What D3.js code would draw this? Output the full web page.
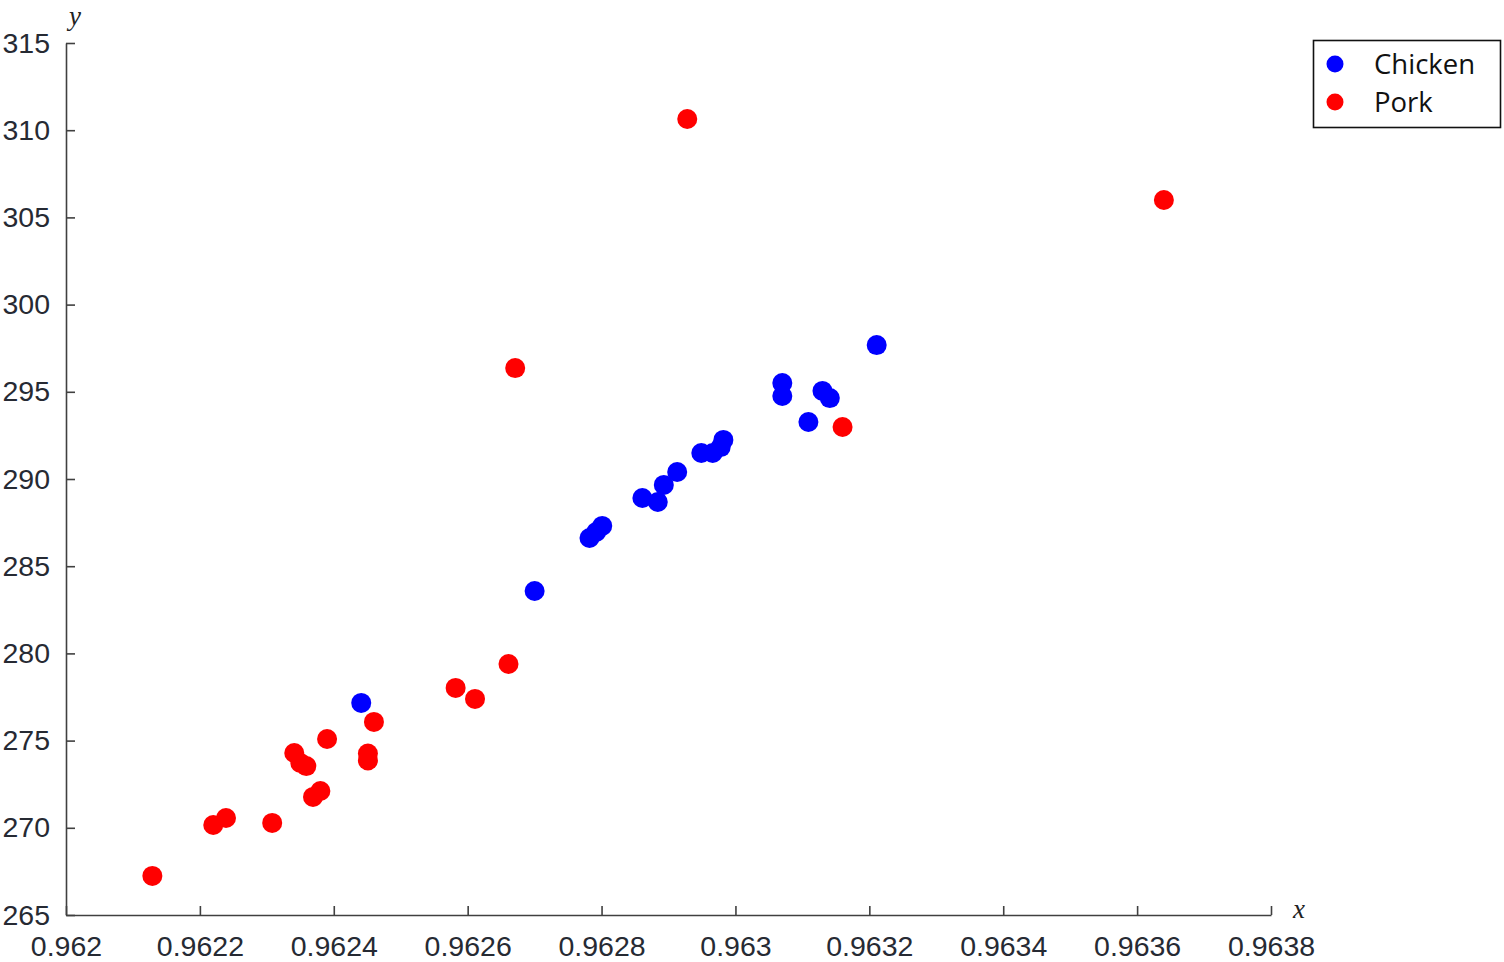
<!DOCTYPE html>
<html>
<head>
<meta charset="utf-8">
<script src="https://cdn.jsdelivr.net/npm/d3@7"></script>
<style>
  html, body { margin: 0; padding: 0; background: #fff; }
  svg { display: block; }
</style>
</head>
<body>
<svg id="chart" width="1504" height="962"></svg>
<script>
// ---- data ----
const seriesNames = ["Chicken", "Pork"];
const seriesColors = ["#0000ff", "#ff0000"];

const chickenX = [0.962441, 0.962700, 0.962782, 0.962792, 0.962801, 0.962861, 0.962884, 0.962893,
  0.962913, 0.962949, 0.962966, 0.962978, 0.962982, 0.963070, 0.963070, 0.963130, 0.963141,
  0.963109, 0.963211];
const chickenY = [277.16, 283.58, 286.62, 286.96, 287.31, 288.91, 288.68, 289.66,
  290.40, 291.49, 291.49, 291.83, 292.24, 295.50, 294.76, 295.05, 294.64,
  293.27, 297.68];

const porkX = [0.962129, 0.962220, 0.962239, 0.962308, 0.962341, 0.962350, 0.962359, 0.962369,
  0.962380, 0.962390, 0.962451, 0.962451, 0.962460, 0.962582, 0.962611, 0.962661, 0.962671,
  0.962928, 0.963160, 0.963640];
const porkY = [267.24, 270.16, 270.56, 270.28, 274.29, 273.72, 273.54, 271.77,
  272.11, 275.09, 274.26, 273.86, 276.07, 278.02, 277.39, 279.39, 296.36,
  310.64, 292.98, 306.00];

const xTicks = [0.962, 0.9622, 0.9624, 0.9626, 0.9628, 0.963, 0.9632, 0.9634, 0.9636, 0.9638];
const xTickLabels = ["0.962", "0.9622", "0.9624", "0.9626", "0.9628", "0.963", "0.9632", "0.9634", "0.9636", "0.9638"];
const yTicks = [265, 270, 275, 280, 285, 290, 295, 300, 305, 310, 315];
const yTickLabels = ["265", "270", "275", "280", "285", "290", "295", "300", "305", "310", "315"];

// ---- layout ----
const svg = d3.select("#chart");
const mLeft = 66, mRight = 1271, mTop = 43, mBottom = 915;
const x = d3.scaleLinear().domain([0.962, 0.9638]).range([mLeft, mRight]);
const y = d3.scaleLinear().domain([265, 315]).range([mBottom, mTop]);

const axisColor = "#404040";
const labelColor = "#262a33";
const tickFont = "Liberation Sans, Arial, sans-serif";

// x axis
const xAxis = d3.axisBottom(x).tickValues(xTicks).tickSize(-9).tickSizeOuter(0)
  .tickFormat((d, i) => xTickLabels[i]).tickPadding(21);
const gx = svg.append("g").attr("transform", `translate(0,${mBottom})`).call(xAxis);
gx.select(".domain").attr("stroke", axisColor).attr("stroke-width", 1.6);
gx.selectAll(".tick line").attr("stroke", axisColor).attr("stroke-width", 1.6);
gx.selectAll(".tick text").attr("fill", labelColor).attr("font-size", 28.5)
  .attr("font-family", tickFont).attr("dy", "0.71em");

// y axis
const yAxis = d3.axisLeft(y).tickValues(yTicks).tickSize(-9).tickSizeOuter(0)
  .tickFormat((d, i) => yTickLabels[i]).tickPadding(16);
const gy = svg.append("g").attr("transform", `translate(${mLeft},0)`).call(yAxis);
gy.select(".domain").attr("stroke", axisColor).attr("stroke-width", 1.6);
gy.selectAll(".tick line").attr("stroke", axisColor).attr("stroke-width", 1.6);
gy.selectAll(".tick text").attr("fill", labelColor).attr("font-size", 28.5)
  .attr("font-family", tickFont);

// axis names
svg.append("text").attr("x", 75).attr("y", 25).attr("text-anchor", "middle")
  .attr("font-family", "Liberation Serif, Times New Roman, serif").attr("font-style", "italic")
  .attr("font-size", 27).attr("fill", "#222").text("y");
svg.append("text").attr("x", 1299).attr("y", 918).attr("text-anchor", "middle")
  .attr("font-family", "Liberation Serif, Times New Roman, serif").attr("font-style", "italic")
  .attr("font-size", 27).attr("fill", "#222").text("x");

// points
const chicken = chickenX.map((v, i) => ({x: v, y: chickenY[i]}));
const pork = porkX.map((v, i) => ({x: v, y: porkY[i]}));
[chicken, pork].forEach((data, si) => {
  svg.append("g").selectAll("circle").data(data).join("circle")
    .attr("cx", d => x(d.x)).attr("cy", d => y(d.y)).attr("r", 10)
    .attr("fill", seriesColors[si]);
});

// legend
const lg = svg.append("g");
lg.append("rect").attr("x", 1313.5).attr("y", 40.5).attr("width", 187).attr("height", 87)
  .attr("fill", "#fff").attr("stroke", "#111").attr("stroke-width", 1.6);
seriesNames.forEach((name, i) => {
  const cy = 64 + i * 38;
  lg.append("circle").attr("cx", 1335).attr("cy", cy).attr("r", 8.5).attr("fill", seriesColors[i]);
  lg.append("text").attr("x", 1374).attr("y", cy).attr("dy", "0.36em")
    .attr("font-family", "Open Sans, sans-serif").attr("font-size", 27.5).attr("fill", "#111")
    .text(name);
});
</script>
</body>
</html>
